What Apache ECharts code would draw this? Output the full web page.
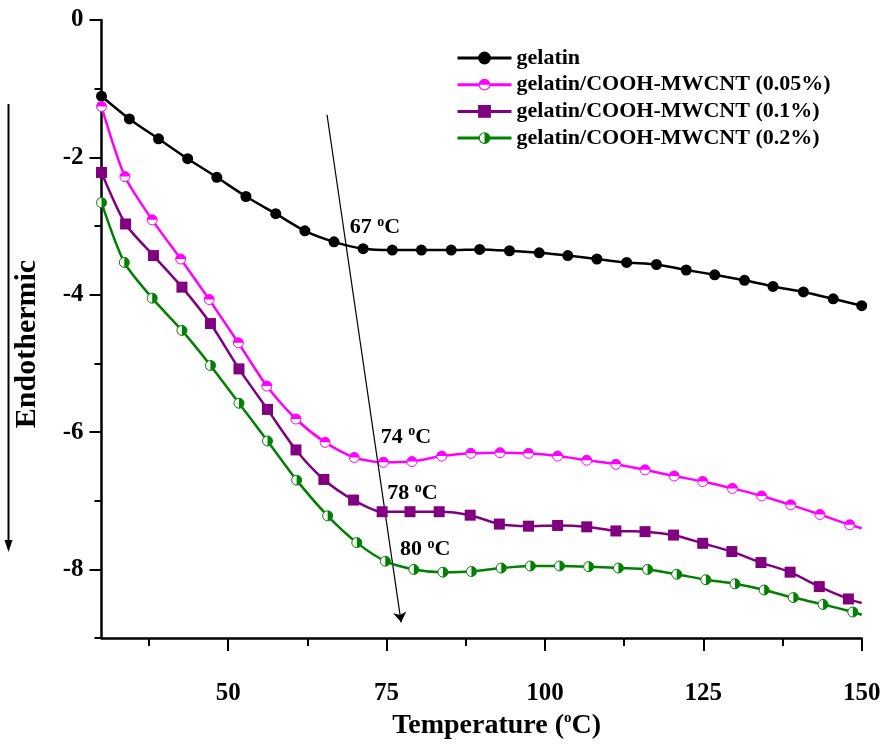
<!DOCTYPE html>
<html>
<head>
<meta charset="utf-8">
<script src="https://cdn.jsdelivr.net/npm/echarts@6/dist/echarts.min.js"></script>
<style>
html,body{margin:0;padding:0;background:#fff;}
#chart{width:887px;height:745px;}
</style>
</head>
<body>
<div id="chart"></div>
<script>
// ---- data ----
const seriesNames = ['gelatin','gelatin/COOH-MWCNT (0.05%)','gelatin/COOH-MWCNT (0.1%)','gelatin/COOH-MWCNT (0.2%)'];

const gelatinT = [30,34.4,39.0,43.6,48.2,52.8,57.5,62.1,66.7,71.3,75.9,80.5,85.2,89.7,94.4,99.1,103.6,108.2,112.9,117.6,122.3,126.8,131.5,136.0,140.8,145.5,150];
const gelatinV = [-1.11,-1.44,-1.73,-2.02,-2.29,-2.57,-2.82,-3.07,-3.23,-3.33,-3.35,-3.35,-3.35,-3.34,-3.36,-3.39,-3.43,-3.48,-3.53,-3.56,-3.64,-3.71,-3.79,-3.88,-3.96,-4.06,-4.16];

const cnt005T = [30,33.7,38.0,42.5,47.0,51.6,56.1,60.7,65.3,69.9,74.5,79.0,83.7,88.3,92.9,97.4,102.0,106.6,111.2,115.8,120.4,124.9,129.6,134.2,138.8,143.4,148.1,150];
const cnt005V = [-1.26,-2.28,-2.91,-3.48,-4.07,-4.70,-5.33,-5.81,-6.15,-6.37,-6.44,-6.43,-6.35,-6.31,-6.30,-6.31,-6.35,-6.41,-6.47,-6.55,-6.64,-6.72,-6.82,-6.93,-7.06,-7.20,-7.35,-7.40];

const cnt01T = [30,33.8,38.2,42.7,47.2,51.7,56.2,60.7,65.1,69.8,74.3,78.7,83.3,88.2,92.8,97.4,102.0,106.6,111.2,115.8,120.3,124.9,129.5,134.1,138.7,143.3,147.9,150];
const cnt01V = [-2.22,-2.97,-3.43,-3.89,-4.42,-5.08,-5.67,-6.26,-6.69,-6.99,-7.16,-7.16,-7.16,-7.21,-7.34,-7.37,-7.36,-7.38,-7.44,-7.45,-7.50,-7.62,-7.74,-7.90,-8.04,-8.25,-8.43,-8.49];

const cnt02T = [30,33.6,38.0,42.7,47.2,51.7,56.2,60.8,65.7,70.3,74.8,79.3,83.9,88.4,93.1,97.7,102.3,106.9,111.6,116.2,120.8,125.4,130.0,134.6,139.2,143.9,148.6,150];
const cnt02V = [-2.66,-3.53,-4.05,-4.52,-5.03,-5.58,-6.13,-6.70,-7.22,-7.61,-7.88,-8.00,-8.04,-8.03,-7.98,-7.95,-7.95,-7.96,-7.98,-8.00,-8.07,-8.15,-8.21,-8.30,-8.41,-8.51,-8.62,-8.66];

// tick values
const xMajorTicks = [50,75,100,125,150];
const xMinorTicks = [37.5,62.5,87.5,112.5,137.5];
const yMajorTicks = [0,-2,-4,-6,-8];
const yMinorTicks = [-1,-3,-5,-7,-9];

// annotations: label text and data coordinates of each label's left-middle
const annoLabels = ['67', '74', '78', '80'];
const annoX = [69.2, 74.1, 75.1, 77.1];
const annoY = [-3.02, -6.07, -6.89, -7.71];
// arrow across the curves (data coords)
const arrowStart = [65.6, -1.38];
const arrowEnd = [77.3, -8.77];

// ---- styling ----
const FONT = '"Liberation Serif","Times New Roman",serif';
const colors = ['#000000', '#ff00ff', '#800080', '#008000'];

function svgUri(svg){ return 'image://data:image/svg+xml;charset=utf-8,' + encodeURIComponent(svg); }
const halfTop = svgUri("<svg xmlns='http://www.w3.org/2000/svg' width='24' height='24' viewBox='0 0 24 24'><circle cx='12' cy='12' r='10' fill='white' stroke='#ff00ff' stroke-width='2'/><path d='M2 12 A10 10 0 0 1 22 12 Z' fill='#ff00ff'/></svg>");
const halfRight = svgUri("<svg xmlns='http://www.w3.org/2000/svg' width='24' height='24' viewBox='0 0 24 24'><circle cx='12' cy='12' r='10' fill='white' stroke='#008000' stroke-width='2'/><path d='M12 2 A10 10 0 0 1 12 22 Z' fill='#008000'/></svg>");

const symbols = ['circle', halfTop, 'rect', halfRight];
const symSizes = [11, 12, 11, 12];
const Ts = [gelatinT, cnt005T, cnt01T, cnt02T];
const Vs = [gelatinV, cnt005V, cnt01V, cnt02V];
const lastMarkerless = [false, true, true, true];

function buildData(i){
  const T = Ts[i], V = Vs[i];
  return T.map((t, k) => {
    const item = { value: [t, V[k]] };
    if (lastMarkerless[i] && k === T.length - 1) item.symbol = 'none';
    return item;
  });
}

const annoRich = {
  n: { fontSize: 22, fontWeight: 'bold', fontFamily: FONT, color: '#000', lineHeight: 24 },
  s: { fontSize: 14, fontWeight: 'bold', fontFamily: FONT, color: '#000', verticalAlign: 'top', lineHeight: 14 }
};

const series = seriesNames.map((name, i) => {
  const s = {
    name: name,
    type: 'line',
    xAxisIndex: 0,
    yAxisIndex: 0,
    data: buildData(i),
    symbol: symbols[i],
    symbolSize: symSizes[i],
    showAllSymbol: true,
    smooth: 0.25,
    lineStyle: { color: colors[i], width: 2.5 },
    itemStyle: { color: colors[i] },
    emphasis: { disabled: true },
    animation: false,
    z: 3 + i,
    markPoint: {
      silent: true,
      animation: false,
      symbol: 'circle',
      symbolSize: 0,
      itemStyle: { color: 'transparent' },
      label: {
        show: true,
        position: 'right',
        distance: 0,
        formatter: '{n|' + annoLabels[i] + ' }{s|o}{n|C}',
        rich: annoRich
      },
      data: [{ coord: [annoX[i], annoY[i]] }]
    }
  };
  if (i === 0) {
    s.markLine = {
      silent: true,
      animation: false,
      symbol: ['none', 'arrow'],
      symbolSize: 10,
      lineStyle: { color: '#000', width: 1.2, type: 'solid' },
      label: { show: false },
      emphasis: { disabled: true },
      data: [[{ coord: arrowStart }, { coord: arrowEnd }]]
    };
  }
  return s;
});

const chart = echarts.init(document.getElementById('chart'), null, { renderer: 'canvas', width: 887, height: 745 });

const axisLine = { show: true, onZero: false, lineStyle: { color: '#000', width: 2.5 } };

chart.setOption({
  backgroundColor: '#fff',
  animation: false,
  grid: { left: 101.5, right: 25.3, top: 20, bottom: 105.7, containLabel: false },
  legend: {
    orient: 'vertical',
    left: 451,
    top: 42,
    itemWidth: 54,
    itemHeight: 16,
    itemGap: 4.7,
    selectedMode: false,
    lineStyle: { width: 3 },
    textStyle: { fontFamily: FONT, fontWeight: 'bold', fontSize: 22, color: '#000', lineHeight: 22 },
    data: seriesNames
  },
  xAxis: [
    {
      type: 'value', min: 30, max: 150, position: 'bottom',
      axisLine: axisLine,
      splitLine: { show: false },
      axisTick: { show: true, inside: false, length: 13, customValues: xMajorTicks, lineStyle: { color: '#000', width: 2 } },
      axisLabel: { show: true, customValues: xMajorTicks, margin: 43, fontFamily: FONT, fontWeight: 'bold', fontSize: 25, color: '#000' },
      name: '{a|Temperature (}{s|o}{a|C)}',
      nameLocation: 'middle',
      nameGap: 69,
      nameTextStyle: {
        padding: [0, 0, 0, 30],
        rich: {
          a: { fontFamily: FONT, fontWeight: 'bold', fontSize: 28, color: '#000', lineHeight: 30 },
          s: { fontFamily: FONT, fontWeight: 'bold', fontSize: 15, color: '#000', verticalAlign: 'top', lineHeight: 15 }
        }
      }
    },
    {
      type: 'value', min: 30, max: 150, position: 'bottom',
      axisLine: { show: false, onZero: false },
      splitLine: { show: false },
      axisTick: { show: true, inside: false, length: 8, customValues: xMinorTicks, lineStyle: { color: '#000', width: 2 } },
      axisLabel: { show: false }
    }
  ],
  yAxis: [
    {
      type: 'value', min: -9, max: 0, position: 'left',
      axisLine: axisLine,
      splitLine: { show: false },
      axisTick: { show: true, inside: false, length: 12, customValues: yMajorTicks, lineStyle: { color: '#000', width: 2 } },
      axisLabel: { show: true, customValues: yMajorTicks, margin: 18, fontFamily: FONT, fontWeight: 'bold', fontSize: 25, color: '#000' }
    },
    {
      type: 'value', min: -9, max: 0, position: 'left',
      axisLine: { show: false, onZero: false },
      splitLine: { show: false },
      axisTick: { show: true, inside: false, length: 7, customValues: yMinorTicks, lineStyle: { color: '#000', width: 2 } },
      axisLabel: { show: false }
    }
  ],
  graphic: [
    { type: 'line', shape: { x1: 8.5, y1: 104, x2: 8.5, y2: 543 }, style: { stroke: '#000', lineWidth: 2 }, silent: true },
    { type: 'polygon', shape: { points: [[4.5, 540], [12.5, 540], [8.5, 552]] }, style: { fill: '#000' }, silent: true },
    {
      type: 'text', x: 27, y: 344, rotation: Math.PI / 2, silent: true,
      style: { text: 'Endothermic', font: 'bold 30px ' + FONT, fill: '#000', align: 'center', verticalAlign: 'middle' }
    }
  ],
  series: series
});
</script>
</body>
</html>
